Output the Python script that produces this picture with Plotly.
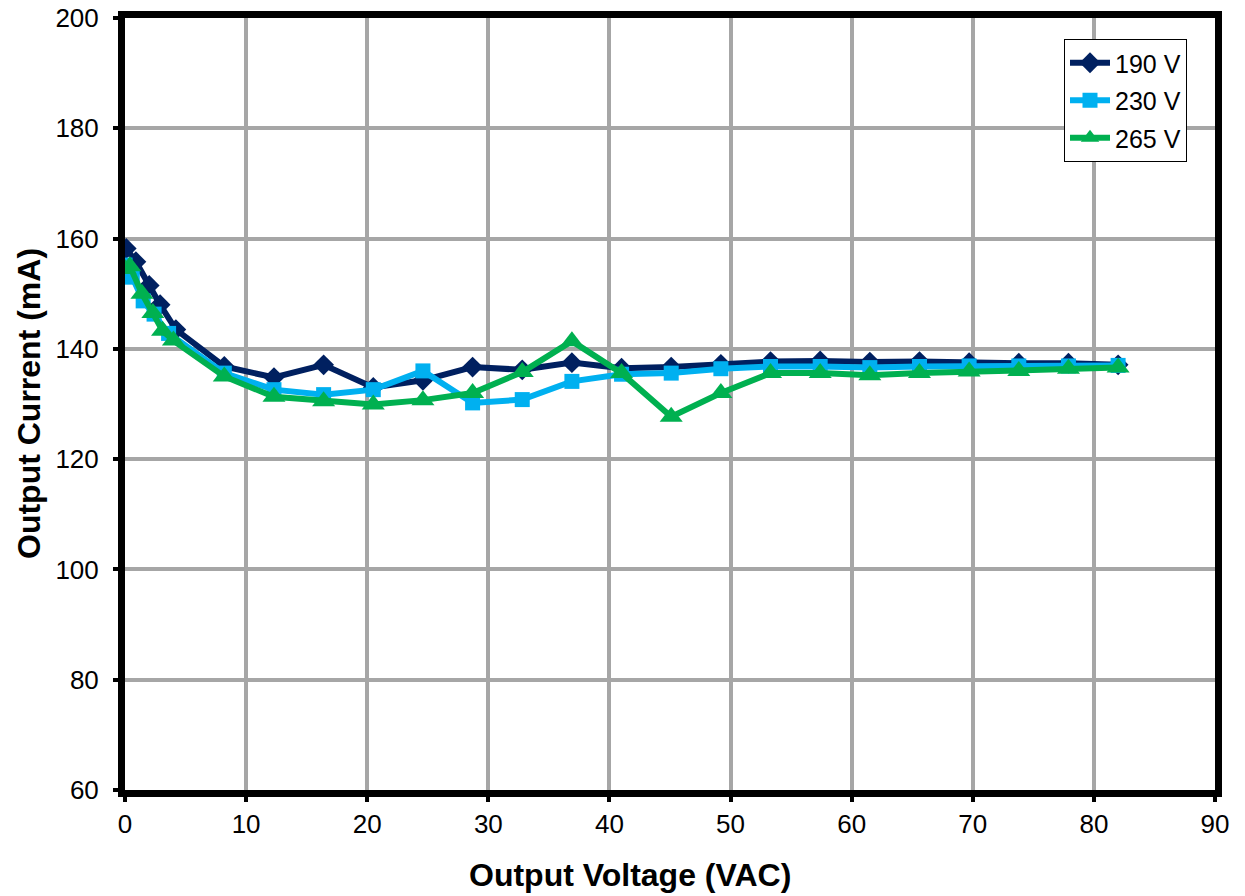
import plotly.graph_objects as go

# Data
x190 = [0.1, 0.9, 2.0, 2.9, 4.2, 8.2, 12.3, 16.4, 20.5, 24.6, 28.7, 32.8, 36.9, 41.0,
        45.1, 49.2, 53.3, 57.4, 61.5, 65.6, 69.7, 73.8, 77.9, 82.0]
y190 = [158.2, 155.8, 151.5, 148.0, 143.5, 136.8, 134.8, 137.1, 133.0, 134.3, 136.7, 136.2,
        137.5, 136.5, 136.7, 137.2, 137.7, 137.8, 137.6, 137.7, 137.5, 137.4, 137.4, 137.1]

x230 = [0.0, 0.6, 1.5, 2.4, 3.6, 8.2, 12.3, 16.4, 20.5, 24.6, 28.7, 32.8, 36.9, 41.0,
        45.1, 49.2, 53.3, 57.4, 61.5, 65.6, 69.7, 73.8, 77.9, 82.0]
y230 = [155.2, 153.0, 148.7, 146.3, 142.8, 135.6, 132.6, 131.7, 132.6, 136.0, 130.2, 130.8,
        134.1, 135.4, 135.6, 136.4, 136.8, 136.8, 136.6, 136.8, 136.9, 136.9, 136.9, 137.0]

x265 = [0.0, 0.4, 1.4, 2.3, 3.1, 4.0, 8.2, 12.3, 16.4, 20.5, 24.6, 28.7, 32.8, 36.9, 41.0,
        45.1, 49.2, 53.3, 57.4, 61.5, 65.6, 69.7, 73.8, 77.9, 82.0]
y265 = [154.5, 155.0, 150.0, 146.5, 143.3, 141.5, 135.0, 131.3, 130.5, 129.9, 130.7, 132.0,
        135.8, 141.4, 135.6, 127.7, 132.0, 135.6, 135.6, 135.2, 135.6, 135.9, 136.0, 136.4, 136.6]

x_title = "Output Voltage (VAC)"
y_title = "Output Current (mA)"

series = [
    ("190 V", x190, y190, "#002060", "diamond", 16),
    ("230 V", x230, y230, "#00B0F0", "square", 15),
    ("265 V", x265, y265, "#00B050", "triangle-up", 20),
]

fig = go.Figure()
for name, xs, ys, color, sym, size in series:
    fig.add_trace(go.Scatter(
        x=xs, y=ys, name=name, mode="lines+markers",
        line=dict(color=color, width=6),
        marker=dict(symbol=sym, size=size, color=color),
        legendgroup=name,
    ))

font_family = "Liberation Sans, Arial, sans-serif"

fig.update_layout(
    width=1245, height=896,
    margin=dict(l=125, r=30, t=18, b=106),
    paper_bgcolor="white", plot_bgcolor="white",
    font=dict(family=font_family, size=26, color="black"),
    showlegend=True,
    legend=dict(
        x=(1064 - 125) / 1090, y=(790 - 39) / 772, xanchor="left", yanchor="top",
        bgcolor="white", bordercolor="black", borderwidth=1,
        font=dict(size=25, family=font_family, color="black"),
        itemwidth=40, tracegroupgap=2, traceorder="grouped",
    ),
    xaxis=dict(
        range=[0, 90], dtick=10, tick0=0, automargin=False,
        showgrid=True, gridcolor="#A6A6A6", gridwidth=4,
        showline=True, linecolor="black", linewidth=7, mirror=True,
        ticks="outside", ticklen=5, tickwidth=4, tickcolor="black",
        zeroline=False,
        tickfont=dict(size=26),
    ),
    yaxis=dict(
        range=[60, 200], dtick=20, tick0=60, automargin=False,
        showgrid=True, gridcolor="#A6A6A6", gridwidth=4,
        showline=True, linecolor="black", linewidth=7, mirror=True,
        ticks="outside", ticklen=5, tickwidth=4, tickcolor="black",
        zeroline=False, ticklabelstandoff=9,
        tickfont=dict(size=26),
    ),
    annotations=[
        dict(text="<b>" + x_title + "</b>", xref="paper", yref="paper",
             x=(630 - 125) / 1090, y=-(875 - 790) / 772, xanchor="center", yanchor="middle",
             showarrow=False, font=dict(size=32)),
        dict(text="<b>" + y_title + "</b>", xref="paper", yref="paper",
             x=(29 - 125) / 1090, y=0.5, xanchor="center", yanchor="middle",
             textangle=-90, showarrow=False, font=dict(size=32)),
    ],
)

fig.write_html("out.html")
